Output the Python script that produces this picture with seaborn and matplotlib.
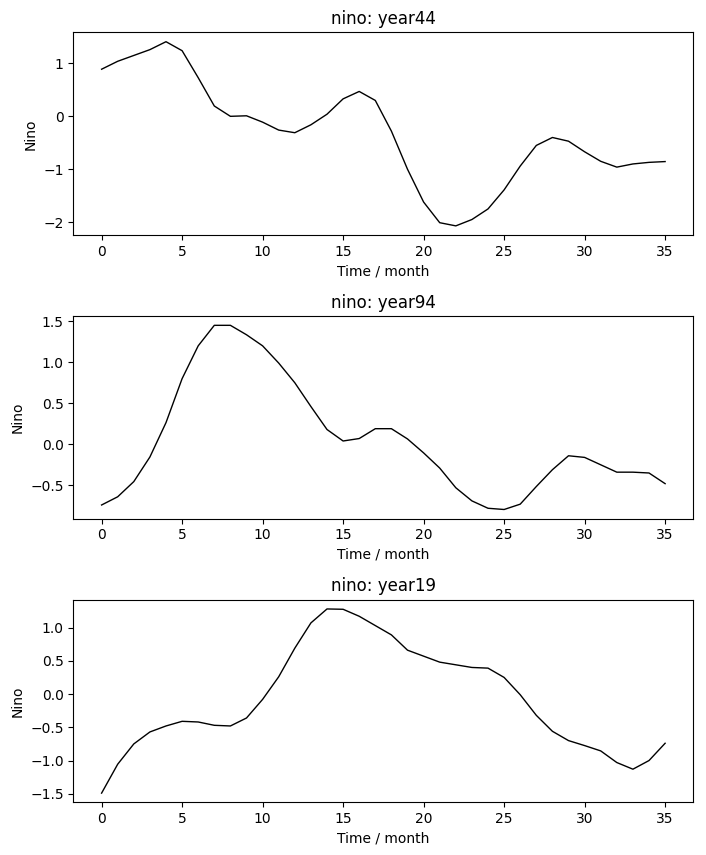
import numpy as np
import pandas as pd
import seaborn as sns
from matplotlib import pyplot as plt


months = list(range(36))

year44 = [0.89, 1.04, 1.15, 1.26, 1.41, 1.24, 0.73, 0.195, 0.0, 0.01,
          -0.11, -0.26, -0.31, -0.16, 0.04, 0.33, 0.47, 0.30, -0.28, -1.0,
          -1.62, -2.01, -2.07, -1.95, -1.75, -1.39, -0.94, -0.55, -0.40, -0.47,
          -0.67, -0.85, -0.96, -0.90, -0.87, -0.855]

year94 = [-0.74, -0.64, -0.455, -0.155, 0.264, 0.80, 1.20, 1.45, 1.45, 1.335,
          1.20, 0.99, 0.75, 0.46, 0.18, 0.04, 0.07, 0.19, 0.19, 0.065,
          -0.105, -0.29, -0.53, -0.69, -0.78, -0.795, -0.73, -0.515, -0.31, -0.14,
          -0.16, -0.25, -0.34, -0.34, -0.35, -0.48]

year19 = [-1.49, -1.055, -0.75, -0.57, -0.48, -0.41, -0.42, -0.47, -0.48, -0.36,
          -0.08, 0.26, 0.69, 1.07, 1.28, 1.275, 1.17, 1.03, 0.89, 0.66,
          0.57, 0.48, 0.44, 0.40, 0.39, 0.25, -0.01, -0.32, -0.56, -0.70,
          -0.775, -0.855, -1.03, -1.13, -1.0, -0.74]

series = {"year44": year44, "year94": year94, "year19": year19}

if __name__ == "__main__":
    fig, axes = plt.subplots(3, 1, figsize=(7.06, 8.55), dpi=100)

    for ax, (name, values) in zip(axes, series.items()):
        df = pd.DataFrame({"month": months, "nino": values})
        sns.lineplot(data=df, x="month", y="nino", color="black", linewidth=1, ax=ax)
        ax.set_title("nino: " + name)
        ax.set_xlabel("Time / month")
        ax.set_ylabel("Nino")
        ax.set_xticks([0, 5, 10, 15, 20, 25, 30, 35])

    fig.subplots_adjust(left=0.104, right=0.982, top=0.962, bottom=0.0616, hspace=0.40)
    plt.savefig("out.png", dpi=100)
